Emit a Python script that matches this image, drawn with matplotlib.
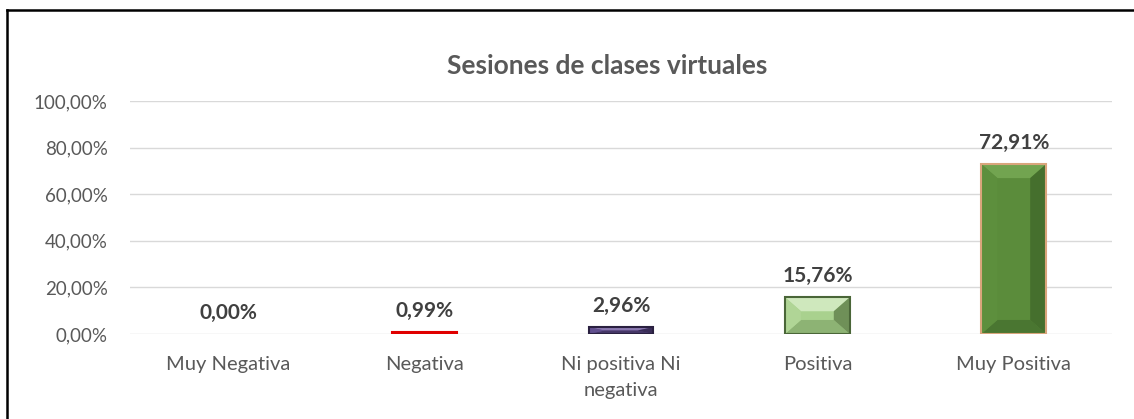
import numpy as np
import matplotlib
matplotlib.use("Agg")
import matplotlib.pyplot as plt
from matplotlib.patches import Polygon
from matplotlib.lines import Line2D
from matplotlib.ticker import FuncFormatter

# data
categories = ["Muy Negativa", "Negativa", "Ni positiva Ni\nnegativa", "Positiva", "Muy Positiva"]
values = [0.00, 0.99, 2.96, 15.76, 72.91]
yticks = [0, 20, 40, 60, 80, 100]

# colours: face, top, bottom, left, right, edge
styles = [
    ("#c00000", "#ff6060", "#900000", "#e00000", "#700000", "#600000"),
    ("#ff0000", "#ff9090", "#d00000", "#ff1010", "#a00000", "#e00000"),
    ("#5f4b8b", "#8a78b0", "#463768", "#62508f", "#3a2d58", "#2a2040"),
    ("#a9d18e", "#cfe8bd", "#8db374", "#b0d596", "#6f9058", "#4a6638"),
    ("#5b8c3b", "#72a450", "#4a7631", "#5d8f3d", "#456f2d", "#d9a57c"),
]

plt.rcParams['font.family'] = ['Lato', 'DejaVu Sans']

fig = plt.figure(figsize=(11.34, 4.19), dpi=100)
ax = fig.add_axes([0.1146, 0.2029, 0.866, 0.5561])

x = np.arange(len(categories))
bw = 0.33
bars = ax.bar(x, values, width=bw, color=[s[0] for s in styles],
              edgecolor='none', zorder=3)

ax.set_xlim(-0.5, len(categories) - 0.5)
ax.set_ylim(0, 100)

# bevel in pixels -> data units
ax_w = 0.866 * 1134
ax_h = 0.5561 * 419
bev_x = 16 / (ax_w / len(categories))
bev_y = 14 / (ax_h / 100)

for rect, st in zip(bars, styles):
    x0, w, h = rect.get_x(), rect.get_width(), rect.get_height()
    if h <= 0:
        continue
    bx = min(bev_x, w / 2)
    by = min(bev_y, h / 2)
    polys = [
        ([(x0, h), (x0 + w, h), (x0 + w - bx, h - by), (x0 + bx, h - by)], st[1]),
        ([(x0, 0), (x0 + w, 0), (x0 + w - bx, by), (x0 + bx, by)], st[2]),
        ([(x0, 0), (x0, h), (x0 + bx, h - by), (x0 + bx, by)], st[3]),
        ([(x0 + w, 0), (x0 + w, h), (x0 + w - bx, h - by), (x0 + w - bx, by)], st[4]),
    ]
    for pts, c in polys:
        ax.add_patch(Polygon(pts, closed=True, facecolor=c, edgecolor='none', zorder=3.5))
    ax.add_patch(plt.Rectangle((x0, 0), w, h, fill=False, edgecolor=st[5], linewidth=1.5, zorder=4))

# data labels
for xi, v in zip(x, values):
    ax.annotate(f"{v:.2f}%".replace(".", ","), (xi, v), xytext=(0, 8),
                textcoords="offset points", ha="center", va="bottom",
                fontsize=15, fontweight="bold", color="#404040")

ax.set_yticks(yticks)
ax.yaxis.set_major_formatter(FuncFormatter(lambda v, p: f"{v:.2f}%".replace(".", ",")))
ax.set_xticks(x)
ax.set_xticklabels(categories, fontsize=14.5, color="#595959", linespacing=1.6)
ax.tick_params(axis='y', labelsize=13.5, labelcolor="#595959", length=0, pad=16)
ax.tick_params(axis='x', length=0, pad=16)
ax.grid(axis='y', color="#d9d9d9", linewidth=1.0, zorder=0)
ax.set_axisbelow(True)
for s in ax.spines.values():
    s.set_visible(False)

fig.text(0.535, 0.843, "Sesiones de clases virtuales", ha="center", va="center",
         fontsize=19, fontweight="bold", color="#595959")

# frame lines on the left and top
fig.add_artist(Line2D([7 / 1134, 7 / 1134], [0, 1 - 10 / 419], color="black", linewidth=1.8))
fig.add_artist(Line2D([7 / 1134, 1], [1 - 10 / 419, 1 - 10 / 419], color="black", linewidth=1.8))

fig.savefig("out.png", dpi=100)
